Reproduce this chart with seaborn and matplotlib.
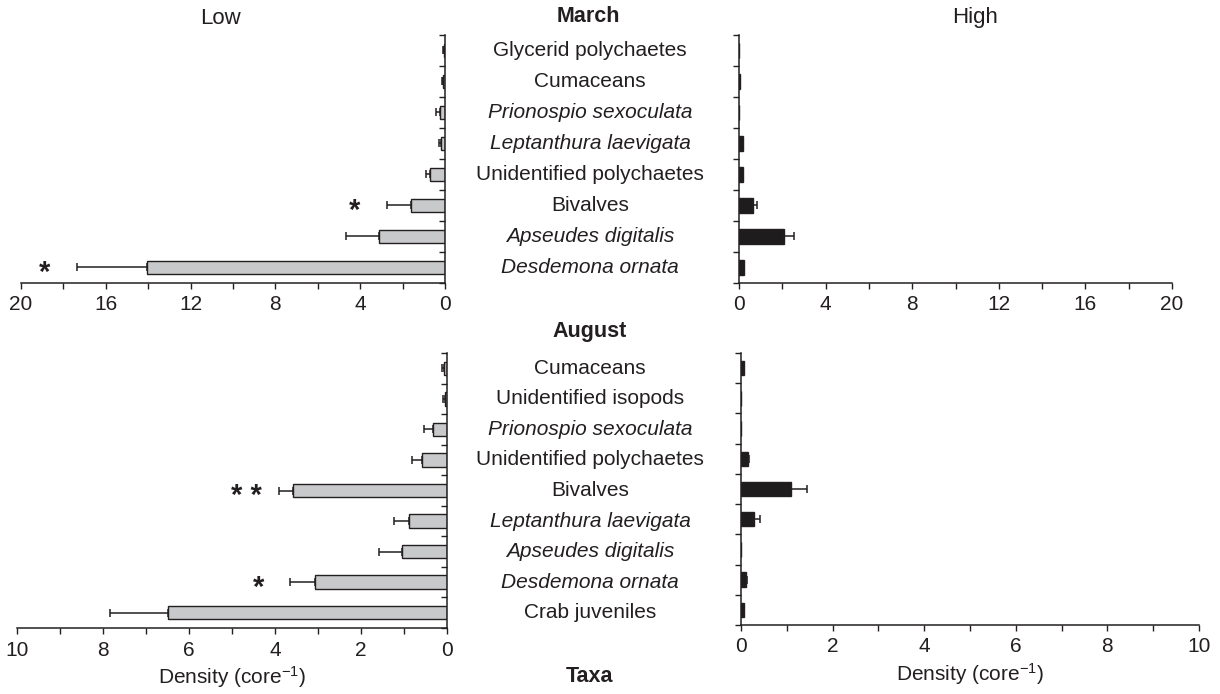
import numpy as np
import pandas as pd
import matplotlib
matplotlib.use("Agg")
import matplotlib.pyplot as plt
import matplotlib.transforms as mtransforms
from matplotlib.ticker import MultipleLocator
import seaborn as sns

# ---------------- data ----------------
march_taxa = ["Glycerid polychaetes", "Cumaceans", "Prionospio sexoculata",
              "Leptanthura laevigata", "Unidentified polychaetes", "Bivalves",
              "Apseudes digitalis", "Desdemona ornata"]
march_low = [0.05, 0.10, 0.24, 0.20, 0.71, 1.62, 3.13, 14.04]
march_low_err = [0.05, 0.05, 0.20, 0.10, 0.20, 1.13, 1.56, 3.32]
march_high = [0.0, 0.05, 0.0, 0.17, 0.17, 0.66, 2.06, 0.23]
march_high_err = [0.0, 0.0, 0.0, 0.0, 0.0, 0.16, 0.48, 0.0]
march_sig = ["", "", "", "", "", "*", "", "*"]

aug_taxa = ["Cumaceans", "Unidentified isopods", "Prionospio sexoculata",
            "Unidentified polychaetes", "Bivalves", "Leptanthura laevigata",
            "Apseudes digitalis", "Desdemona ornata", "Crab juveniles"]
aug_low = [0.08, 0.04, 0.33, 0.58, 3.59, 0.89, 1.05, 3.08, 6.50]
aug_low_err = [0.04, 0.06, 0.21, 0.24, 0.32, 0.35, 0.54, 0.57, 1.33]
aug_high = [0.06, 0.0, 0.0, 0.15, 1.09, 0.29, 0.0, 0.12, 0.06]
aug_high_err = [0.0, 0.0, 0.0, 0.02, 0.36, 0.12, 0.0, 0.02, 0.0]
aug_sig = ["", "", "", "", "* *", "", "", "*", ""]

italic_taxa = {"Prionospio sexoculata", "Leptanthura laevigata",
               "Apseudes digitalis", "Desdemona ornata"}

# ---------------- style ----------------
sns.set_theme(style="white")
plt.rcParams["font.family"] = ["Liberation Sans", "DejaVu Sans"]
plt.rcParams["mathtext.fontset"] = "custom"
plt.rcParams["mathtext.rm"] = "Liberation Sans"
plt.rcParams["mathtext.it"] = "Liberation Sans:italic"
TXT = "#231f20"
FS = 15
LOW_C = "#c8c9cb"
HIGH_C = "#1e1c1d"

W, H = 1220, 694
fig = plt.figure(figsize=(W / 100, H / 100), dpi=100)


def px_axes(x0, y0, x1, y1):
    return fig.add_axes([x0 / W, 1 - y1 / H, (x1 - x0) / W, (y1 - y0) / H])


axTL = px_axes(21, 35, 445, 283)
axTR = px_axes(739, 35, 1172, 283)
axBL = px_axes(17, 353, 447, 628)
axBR = px_axes(741, 353, 1199, 625)


def draw(ax, taxa, vals, errs, color, xmax, major, minor, low, sig=None):
    df = pd.DataFrame({"taxon": taxa, "density": vals})
    sns.barplot(data=df, x="density", y="taxon", orient="h", ax=ax,
                color=color, edgecolor=TXT, linewidth=1.0,
                width=0.44 if low else 0.48,
                saturation=1, errorbar=None)
    idx = np.arange(len(taxa))
    v = np.asarray(vals)
    e = np.asarray(errs)
    m = e > 0
    if m.any():
        ax.errorbar(v[m], idx[m], xerr=[np.zeros(m.sum()), e[m]], fmt="none",
                    ecolor=TXT, elinewidth=1.1, capsize=3, capthick=1.1)
    n = len(taxa)
    ax.set_ylim(n - 0.5, -0.5)
    ax.set_yticks(np.arange(-0.5, n, 1.0))
    ax.set_yticklabels([])
    ax.set_ylabel("")
    ax.set_xlim(0, xmax)
    ax.xaxis.set_major_locator(MultipleLocator(major))
    ax.xaxis.set_minor_locator(MultipleLocator(minor))
    for s in ax.spines.values():
        s.set_visible(False)
    ax.spines["bottom"].set_visible(True)
    ax.spines["bottom"].set_color(TXT)
    ax.spines["bottom"].set_linewidth(1.1)
    side = "right" if low else "left"
    ax.spines[side].set_visible(True)
    ax.spines[side].set_color(TXT)
    ax.spines[side].set_linewidth(1.1)
    ax.tick_params(axis="x", which="both", direction="out", length=4,
                   width=1.0, color=TXT, labelsize=FS, labelcolor=TXT, pad=5,
                   bottom=True)
    if low:
        ax.invert_xaxis()
        ax.yaxis.tick_right()
        ax.tick_params(axis="y", which="major", direction="in", length=4,
                       width=1.0, color=TXT, right=True, left=False)
    else:
        ax.tick_params(axis="y", which="major", direction="out", length=4,
                       width=1.0, color=TXT, left=True)
    ax.set_xlabel("")
    ax.grid(False)
    if sig is not None:
        for i, s in enumerate(sig):
            if s:
                ax.annotate(s, xy=(vals[i] + errs[i], i), xytext=(-23, -4),
                            textcoords="offset points", ha="center",
                            va="center", fontsize=21, fontweight="bold",
                            color=TXT)


draw(axTL, march_taxa, march_low, march_low_err, LOW_C, 20, 4, 2, True, march_sig)
draw(axTR, march_taxa, march_high, march_high_err, HIGH_C, 20, 4, 2, False)
draw(axBL, aug_taxa, aug_low, aug_low_err, LOW_C, 10, 2, 1, True, aug_sig)
draw(axBR, aug_taxa, aug_high, aug_high_err, HIGH_C, 10, 2, 1, False)

for ax in (axBL, axBR):
    ax.set_xlabel("Density (core$^{-1}$)", fontsize=FS, color=TXT, labelpad=3)

# category labels in the central column
for ax, taxa in ((axTL, march_taxa), (axBL, aug_taxa)):
    tr = mtransforms.blended_transform_factory(fig.transFigure, ax.transData)
    for i, t in enumerate(taxa):
        ax.text(590 / W, i, t, transform=tr, ha="center", va="center",
                fontsize=FS, color=TXT,
                style="italic" if t in italic_taxa else "normal", clip_on=False)

fig.text(588 / W, 1 - 16 / H, "March", ha="center", va="center",
         fontsize=FS + 0.5, fontweight="bold", color=TXT)
fig.text(590 / W, 1 - 332 / H, "August", ha="center", va="center",
         fontsize=FS + 0.5, fontweight="bold", color=TXT)
fig.text(590 / W, 1 - 677 / H, "Taxa", ha="center", va="center",
         fontsize=FS + 0.5, fontweight="bold", color=TXT)
fig.text(220 / W, 1 - 18 / H, "Low", ha="center", va="center",
         fontsize=FS + 1, color=TXT)
fig.text(975 / W, 1 - 18 / H, "High", ha="center", va="center",
         fontsize=FS + 1, color=TXT)

fig.savefig("out.png", dpi=100, facecolor="white")
